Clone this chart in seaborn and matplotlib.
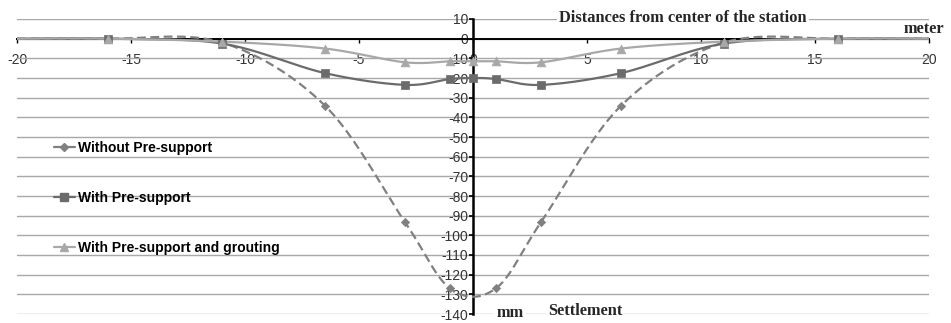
import numpy as np
import pandas as pd
import seaborn as sns
import matplotlib
matplotlib.use("Agg")
import matplotlib.pyplot as plt
from matplotlib.lines import Line2D

# ---- data ----
series_names = ["Without Pre-support", "With Pre-support", "With Pre-support and grouting"]
x_without = [-20, -16, -11, -6.5, -3, -1, 1, 3, 6.5, 11, 16, 20]
y_without = [0, 0, -2, -34, -93, -127, -127, -93, -34, -2, 0, 0]
x_with = [-20, -16, -11, -6.5, -3, -1, 0, 1, 3, 6.5, 11, 16, 20]
y_with = [0, 0, -2.5, -17.5, -23.5, -20.5, -20, -20.5, -23.5, -17.5, -2.5, 0, 0]
x_grout = [-20, -16, -11, -6.5, -3, -1, 0, 1, 3, 6.5, 11, 16, 20]
y_grout = [0, 0, -1.5, -5, -12, -11.5, -11.5, -11.5, -12, -5, -1.5, 0, 0]
x_ticks = [-20, -15, -10, -5, 0, 5, 10, 15, 20]
y_ticks = list(range(10, -141, -10))

colors = ["#808080", "#6b6b6b", "#a8a8a8"]
markers = ["D", "s", "^"]
marker_sizes = [18, 38, 40]


def excel_smooth(xs, ys, n=40):
    """Bezier smoothing with Catmull-Rom control points (like spreadsheet smoothed lines)."""
    P = np.column_stack([xs, ys]).astype(float)
    out = []
    m = len(P)
    for i in range(m - 1):
        p0 = P[i - 1] if i > 0 else P[i]
        p1 = P[i]
        p2 = P[i + 1]
        p3 = P[i + 2] if i + 2 < m else P[i + 1]
        c1 = p1 + (p2 - p0) / 6.0
        c2 = p2 - (p3 - p1) / 6.0
        t = np.linspace(0, 1, n, endpoint=(i == m - 2))[:, None]
        b = ((1 - t) ** 3) * p1 + 3 * ((1 - t) ** 2) * t * c1 + 3 * (1 - t) * t ** 2 * c2 + t ** 3 * p2
        out.append(b)
    out = np.vstack(out)
    return out[:, 0], out[:, 1]


raw = [(x_without, y_without), (x_with, y_with), (x_grout, y_grout)]
frames = []
for name, (xs, ys) in zip(series_names, raw):
    sx, sy = excel_smooth(xs, ys)
    frames.append(pd.DataFrame({"x": sx, "y": sy, "series": name, "order": np.arange(len(sx))}))
smooth_df = pd.concat(frames, ignore_index=True)

sns.set_theme(style="white")
plt.rcParams["font.family"] = ["Liberation Sans", "DejaVu Sans"]
plt.rcParams["axes.unicode_minus"] = False

fig = plt.figure(figsize=(9.51, 3.23), dpi=100)
top_px, bot_px = 19, 314
ax = fig.add_axes([17 / 951, 1 - bot_px / 323, (929 - 17) / 951, (bot_px - top_px) / 323])

palette = dict(zip(series_names, colors))
dashes = {series_names[0]: (4, 2), series_names[1]: "", series_names[2]: ""}
sns.lineplot(data=smooth_df, x="x", y="y", hue="series", style="series",
             palette=palette, dashes=dashes, sort=False, estimator=None,
             units="series", linewidth=1.6, legend=False, ax=ax, zorder=3)

for name, (xs, ys), c, mk, s in zip(series_names, raw, colors, markers, marker_sizes):
    pts = pd.DataFrame({"x": xs[1:-1], "y": ys[1:-1]})
    sns.scatterplot(data=pts, x="x", y="y", color=c, marker=mk, s=s,
                    edgecolor=c, linewidth=0.5, legend=False, ax=ax, zorder=4)

ax.set_xlim(-20, 20)
ax.set_ylim(-140, 10)
ax.set_xticks(x_ticks)
ax.set_xticklabels([str(v) for v in x_ticks])
ax.set_yticks(y_ticks)
ax.set_yticklabels([str(v) for v in y_ticks])
ax.set_xlabel("")
ax.set_ylabel("")

ax.yaxis.grid(True, color="#a8a8a8", linewidth=1.0)
ax.xaxis.grid(False)
ax.set_axisbelow(True)

for sp in ["top", "right"]:
    ax.spines[sp].set_visible(False)
ax.spines["left"].set_position(("data", 0))
ax.spines["bottom"].set_position(("data", 0))
ax.spines["left"].set_color("black")
ax.spines["left"].set_linewidth(1.8)
ax.spines["bottom"].set_color("black")
ax.spines["bottom"].set_linewidth(1.4)
ax.spines["left"].set_zorder(2.5)
ax.spines["bottom"].set_zorder(2.5)

ax.tick_params(axis="y", direction="out", length=3, width=1.2, color="black",
               pad=0.5, labelsize=10, labelcolor="#333333", left=True)
ax.tick_params(axis="x", direction="out", length=3, width=1.0, color="black",
               pad=7, labelsize=10, labelcolor="#333333", bottom=True)
for lab in ax.get_yticklabels():
    lab.set_zorder(5)

handles = [Line2D([0], [0], color=c, marker=mk, markersize=ms, linewidth=1.6,
                  markeredgecolor=c)
           for c, mk, ms in zip(colors, markers, [4, 5.5, 6])]
leg = fig.legend(handles, series_names, loc="center left",
                 bbox_to_anchor=(54 / 951, 1 - 198 / 323), frameon=False,
                 prop={"family": "Liberation Sans", "weight": "bold", "size": 10},
                 labelspacing=2.6, handlelength=1.5, handletextpad=0.2,
                 borderpad=0, borderaxespad=0)
for t in leg.get_texts():
    t.set_color("#000000")

serif = {"family": "Liberation Serif", "weight": "bold", "size": 11.8}
bbox = dict(facecolor="white", edgecolor="none", pad=1.5)
fig.text(683 / 951, 1 - 18 / 323, "Distances from center of the station", ha="center",
         va="center", fontdict=serif, bbox=bbox, zorder=10)
fig.text(944 / 951, 1 - 29 / 323, "meter", ha="right", va="center", fontdict=serif)
fig.text(510 / 951, 1 - 313 / 323, "mm", ha="center", va="center", fontdict=serif,
         bbox=bbox)
fig.text(585 / 951, 1 - 311 / 323, "Settlement", ha="center", va="center", fontdict=serif,
         bbox=bbox)

fig.savefig("out.png", dpi=100)
